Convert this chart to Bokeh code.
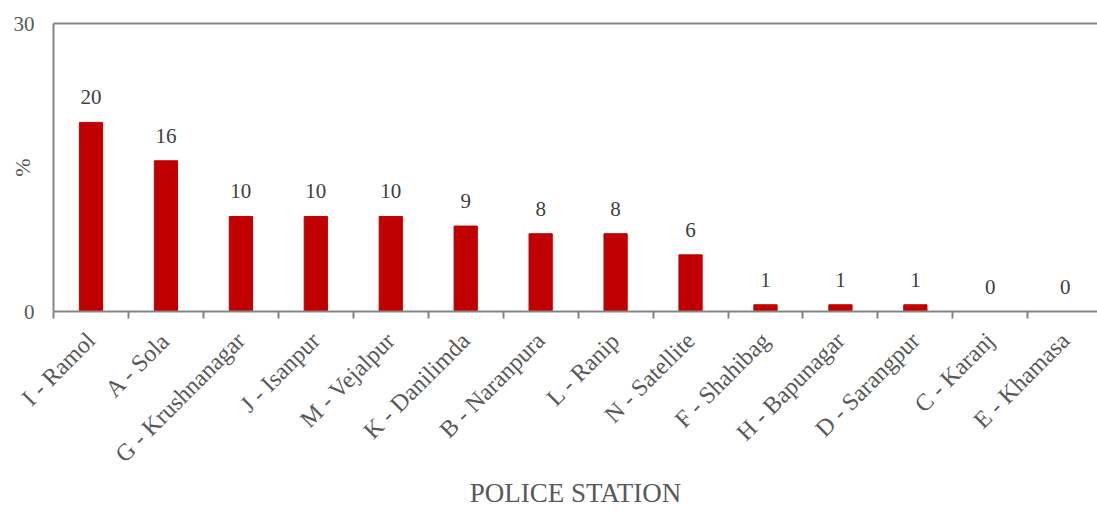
import math
from bokeh.plotting import figure
from bokeh.models import ColumnDataSource, Range1d, LinearAxis, FixedTicker, LabelSet
from bokeh.embed import file_html
from bokeh.resources import INLINE

stations = ["I - Ramol", "A - Sola", "G - Krushnanagar", "J - Isanpur", "M - Vejalpur",
            "K - Danilimda", "B - Naranpura", "L - Ranip", "N - Satellite", "F - Shahibag",
            "H - Bapunagar", "D - Sarangpur", "C - Karanj", "E - Khamasa"]
percent = [19.7, 15.7, 9.9, 9.9, 9.9, 8.9, 8.1, 8.1, 5.9, 0.7, 0.7, 0.7, 0.0, 0.0]
value_labels = [str(int(math.floor(v + 0.5))) for v in percent]
y_ticks = [0, 30]

FONT = "Liberation Serif"
AXIS_GRAY = "#858585"
TEXT_GRAY = "#595959"

n = len(stations)
centers = [i + 0.5 for i in range(n)]
bounds = list(range(n + 1))
src = ColumnDataSource(dict(x=centers, top=percent, label=value_labels, name=stations))

p = figure(width=1097, height=511, output_backend="svg", toolbar_location=None,
           x_range=Range1d(0, 13.93), y_range=Range1d(0, 30),
           x_axis_location=None, y_axis_location=None,
           min_border_left=53, min_border_right=0, min_border_top=23, min_border_bottom=200)
p.outline_line_color = None
p.xgrid.visible = False
p.ygrid.visible = False
p.background_fill_color = "white"
p.border_fill_color = "white"

p.vbar(x="x", top="top", width=0.31, bottom=0, source=src,
       fill_color="#C00000", line_color="#C00000")

p.add_layout(LabelSet(x="x", y="top", text="label", source=src,
                      text_align="center", text_baseline="alphabetic", y_offset=18,
                      text_font=FONT, text_font_size="21px", text_color="#404040"))

# y axis
yax = LinearAxis(ticker=FixedTicker(ticks=y_ticks))
yax.axis_line_color = AXIS_GRAY
yax.axis_line_width = 2
yax.major_tick_out = 0
yax.major_tick_in = 0
yax.minor_tick_out = 0
yax.minor_tick_in = 0
yax.major_label_standoff = 19
yax.major_label_text_font = FONT
yax.major_label_text_font_size = "21px"
yax.major_label_text_color = TEXT_GRAY
yax.axis_label = "%"
yax.axis_label_standoff = -24
yax.axis_label_text_font = FONT
yax.axis_label_text_font_size = "22px"
yax.axis_label_text_font_style = "normal"
yax.axis_label_text_color = TEXT_GRAY
p.add_layout(yax, "left")

# top border line
top = LinearAxis(ticker=FixedTicker(ticks=[]))
top.axis_line_color = AXIS_GRAY
top.axis_line_width = 2
top.major_tick_out = 0
top.major_tick_in = 0
top.minor_tick_out = 0
top.minor_tick_in = 0
top.major_label_standoff = 0
p.add_layout(top, "above")

# x axis: labels at category centres, tick marks at category boundaries
xl = LinearAxis(ticker=FixedTicker(ticks=centers, minor_ticks=bounds))
xl.major_label_overrides = {c: s for c, s in zip(centers, stations)}
xl.axis_line_color = AXIS_GRAY
xl.axis_line_width = 2
xl.major_tick_line_color = None
xl.major_tick_out = 7
xl.major_tick_in = 0
xl.minor_tick_line_color = AXIS_GRAY
xl.minor_tick_line_width = 2
xl.minor_tick_out = 7
xl.minor_tick_in = 0
xl.major_label_orientation = math.pi / 4
xl.major_label_standoff = 18
xl.major_label_text_font = FONT
xl.major_label_text_font_size = "24px"
xl.major_label_text_color = TEXT_GRAY
xl.axis_label = "POLICE STATION"
xl.axis_label_standoff = -1
xl.axis_label_text_font = FONT
xl.axis_label_text_font_size = "27px"
xl.axis_label_text_font_style = "normal"
xl.axis_label_text_color = TEXT_GRAY
p.add_layout(xl, "below")

open("out.html", "w").write(file_html(p, INLINE))
